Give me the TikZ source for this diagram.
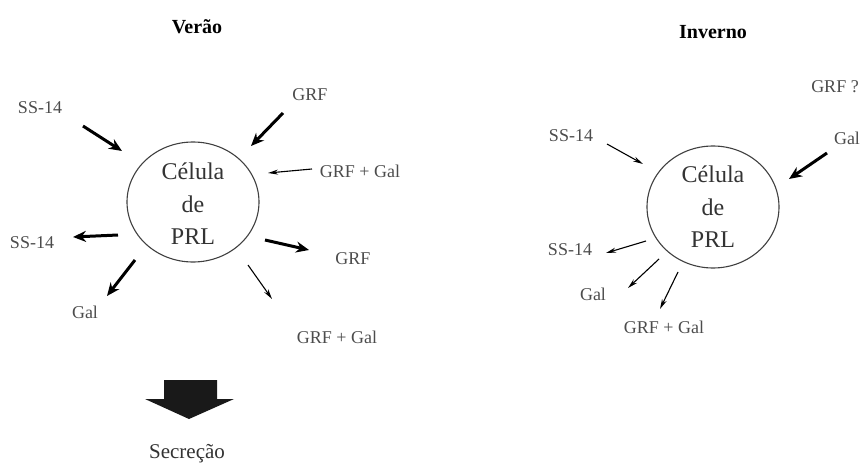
\documentclass[tikz,border=0pt]{standalone}
\usepackage{fontspec}
\setmainfont{Liberation Serif}
\usetikzlibrary{arrows.meta}
\begin{document}
\begin{tikzpicture}[x=1pt,y=-1pt,
  lbl/.style={text=black!70,font=\fontsize{18}{20}\selectfont,inner sep=0pt},
  celltxt/.style={text=black!80,font=\fontsize{24}{26}\selectfont,inner sep=0pt},
  ttl/.style={font=\bfseries\fontsize{20}{22}\selectfont,inner sep=0pt},
  cell/.style={draw=black!75,line width=1.1pt,ellipse},
  thickarr/.style={line width=3pt,-{Stealth[length=13pt,width=11pt]}},
  thinarr/.style={line width=1.1pt,-{Stealth[length=10pt,width=5pt]}}]
\useasboundingbox (0,0) rectangle (863,463);
% ---- Verao ----
\node[ttl] (tv) at (197,27) {Verão};
\draw[draw=black!75,line width=1.1pt] (193,202) ellipse [x radius=66, y radius=60];
\coordinate (c1) at (193,202);
\node[celltxt] (v1) at (193,171) {Célula};
\node[celltxt] (v2) at (193,204) {de};
\node[celltxt] (v3) at (193,237) {PRL};
\node[lbl] (vss1) at (40,108) {SS-14};
\node[lbl] (vgrf1) at (310,95) {GRF};
\node[lbl] (vgg1) at (360,171) {GRF + Gal};
\node[lbl] (vss2) at (32,243) {SS-14};
\node[lbl] (vgrf2) at (353,259) {GRF};
\node[lbl] (vgal) at (85,312) {Gal};
\node[lbl] (vgg2) at (337,337) {GRF + Gal};
\coordinate (a1s) at (83,126); \coordinate (a1e) at (122,151);
\coordinate (a2s) at (283,113); \coordinate (a2e) at (251,146);
\coordinate (a3s) at (312,169); \coordinate (a3e) at (268,173);
\coordinate (a4s) at (118,235); \coordinate (a4e) at (73,237);
\coordinate (a5s) at (265,240); \coordinate (a5e) at (309,250);
\coordinate (a6s) at (135,260); \coordinate (a6e) at (107,296);
\coordinate (a7s) at (248,265); \coordinate (a7e) at (272,299);
\draw[thickarr] (a1s) -- (a1e);
\draw[thickarr] (a2s) -- (a2e);
\draw[thinarr] (a3s) -- (a3e);
\draw[thickarr] (a4s) -- (a4e);
\draw[thickarr] (a5s) -- (a5e);
\draw[thickarr] (a6s) -- (a6e);
\draw[thinarr] (a7s) -- (a7e);
% block arrow
\fill[black!90] (164,380) -- (217,380) -- (217,399) -- (234,399) -- (189,419) -- (145,399) -- (164,399) -- cycle;
\node[lbl,text=black!80,font=\fontsize{21}{23}\selectfont] (sec) at (187,454) {Secreção};
% ---- Inverno ----
\node[ttl] (ti) at (713,32) {Inverno};
\draw[draw=black!75,line width=1.1pt] (713,207) ellipse [x radius=66, y radius=61];
\node[celltxt] (i1) at (713,174) {Célula};
\node[celltxt] (i2) at (713,207) {de};
\node[celltxt] (i3) at (713,240) {PRL};
\node[lbl] (igrfq) at (835,87) {GRF ?};
\node[lbl] (igal1) at (847,138) {Gal};
\node[lbl] (iss1) at (571,136) {SS-14};
\node[lbl] (iss2) at (570,250) {SS-14};
\node[lbl] (igal2) at (593,294) {Gal};
\node[lbl] (igg) at (664,327) {GRF + Gal};
\coordinate (b1s) at (827,153); \coordinate (b1e) at (789,179);
\coordinate (b2s) at (607,144); \coordinate (b2e) at (643,164);
\coordinate (b3s) at (646,241); \coordinate (b3e) at (606,253);
\coordinate (b4s) at (659,259); \coordinate (b4e) at (628,288);
\coordinate (b5s) at (678,272); \coordinate (b5e) at (660,309);
\draw[thickarr] (b1s) -- (b1e);
\draw[thinarr] (b2s) -- (b2e);
\draw[thinarr] (b3s) -- (b3e);
\draw[thinarr] (b4s) -- (b4e);
\draw[thinarr] (b5s) -- (b5e);
\end{tikzpicture}
\end{document}
